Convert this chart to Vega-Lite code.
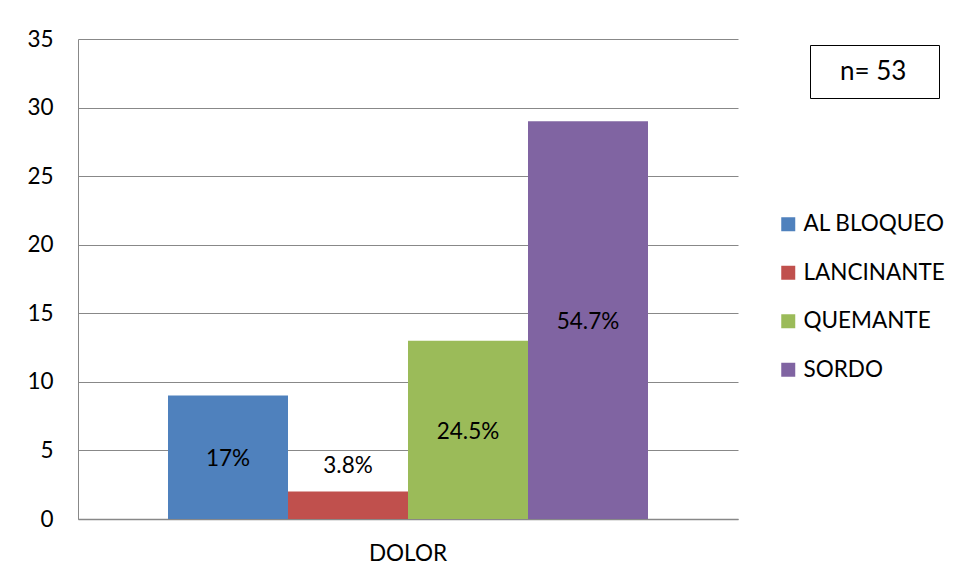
{
  "$schema": "https://vega.github.io/schema/vega-lite/v6.json",
  "width": 660,
  "height": 480,
  "autosize": {"type": "none"},
  "padding": {"left": 78, "top": 39, "right": 222, "bottom": 64},
  "background": "white",
  "config": {
    "view": {"stroke": null},
    "font": "Lato",
    "text": {"font": "Lato"}
  },
  "data": {
    "values": [
      {"group": "DOLOR", "tipo": "AL BLOQUEO", "value": 9, "pct": "17%"},
      {"group": "DOLOR", "tipo": "LANCINANTE", "value": 2, "pct": "3.8%"},
      {"group": "DOLOR", "tipo": "QUEMANTE", "value": 13, "pct": "24.5%"},
      {"group": "DOLOR", "tipo": "SORDO", "value": 29, "pct": "54.7%"}
    ]
  },
  "layer": [
    {
      "mark": {"type": "bar"},
      "encoding": {
        "x": {
          "field": "group",
          "type": "nominal",
          "scale": {"paddingInner": 0, "paddingOuter": 0.1875},
          "axis": {
            "title": null,
            "labelAngle": 0,
            "labelFontSize": 22.5,
            "labelColor": "black",
            "labelPadding": 23,
            "ticks": false,
            "domainColor": "#888888",
            "domainWidth": 1.5
          }
        },
        "xOffset": {
          "field": "tipo",
          "type": "nominal",
          "scale": {"paddingInner": 0, "paddingOuter": 0}
        },
        "y": {
          "field": "value",
          "type": "quantitative",
          "scale": {"domain": [0, 35], "nice": false},
          "axis": {
            "title": null,
            "values": [0, 5, 10, 15, 20, 25, 30, 35],
            "labelFontSize": 22.5,
            "labelColor": "black",
            "labelPadding": 25,
            "ticks": false,
            "grid": true,
            "gridColor": "#888888",
            "gridWidth": 1,
            "domainColor": "#888888",
            "domainWidth": 1
          }
        },
        "color": {
          "field": "tipo",
          "type": "nominal",
          "scale": {
            "domain": ["AL BLOQUEO", "LANCINANTE", "QUEMANTE", "SORDO"],
            "range": ["#4F81BD", "#C0504D", "#9BBB59", "#8064A2"]
          },
          "legend": {
            "title": null,
            "orient": "none",
            "legendX": 699,
            "legendY": 174,
            "padding": 0,
            "symbolType": "square",
            "symbolSize": 196,
            "symbolStrokeWidth": 0,
            "labelFontSize": 22.5,
            "labelColor": "black",
            "labelOffset": 4,
            "rowPadding": 25.5
          }
        }
      }
    },
    {
      "transform": [
        {"calculate": "datum.value < 5 ? datum.value + 2 : datum.value / 2", "as": "ly"}
      ],
      "mark": {"type": "text", "fontSize": 22.5, "color": "black", "font": "Lato", "dy": 2},
      "encoding": {
        "x": {"field": "group", "type": "nominal"},
        "xOffset": {"field": "tipo", "type": "nominal"},
        "y": {"field": "ly", "type": "quantitative"},
        "text": {"field": "pct", "type": "nominal"}
      }
    },
    {
      "data": {"values": [{"n": "n= 53"}]},
      "mark": {"type": "point", "opacity": 0},
      "encoding": {
        "shape": {
          "field": "n",
          "type": "nominal",
          "legend": {
            "title": null,
            "orient": "none",
            "legendX": 732,
            "legendY": 6,
            "padding": 13.5,
            "strokeColor": "black",
            "symbolSize": 0,
            "symbolOpacity": 0,
            "symbolStrokeWidth": 0,
            "labelOffset": -9.5,
            "labelFontSize": 26,
            "labelColor": "black",
            "labelExpr": "datum.label + '\u2800'"
          }
        }
      }
    }
  ]
}
